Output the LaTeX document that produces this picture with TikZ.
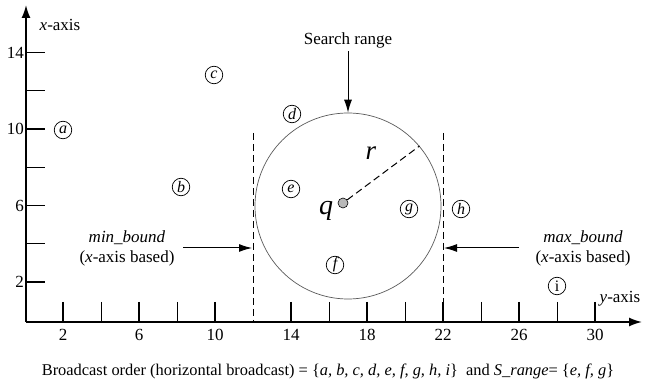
\documentclass[tikz,border=0pt]{standalone}
\usepackage{fontspec}
\setmainfont{Liberation Serif}
\usetikzlibrary{arrows.meta}
\tikzset{
  axisline/.style={line width=1.6pt,-{Latex[length=13pt,width=9pt]}},
  majortick/.style={line width=1.6pt},
  minortick/.style={line width=0.9pt},
  ptnode/.style={circle,draw,line width=0.7pt,minimum size=17.5pt,inner sep=0pt,font=\fontsize{16}{16}\selectfont\itshape},
  boundline/.style={dashed,line width=1pt,dash pattern=on 7pt off 4pt},
  pointer/.style={line width=1pt,-{Latex[length=13pt,width=8pt]}},
  lbl/.style={font=\fontsize{17}{20}\selectfont},
}
\begin{document}
\begin{tikzpicture}[x=1pt,y=-1pt]
\useasboundingbox (0,0) rectangle (649,385);
% axes
\coordinate (O) at (26,322);
\coordinate (xend) at (642,322);
\coordinate (yend) at (26,5);
\draw[axisline] (O) -- (xend);
\draw[axisline] (O) -- (yend);
% vertical axis ticks
\foreach \k in {2,6,10,14} {
  \draw[majortick] (26,{320.5-19.15*\k}) -- (45,{320.5-19.15*\k});
  \node[lbl,anchor=east,inner sep=1pt] at (25,{320.5-19.15*\k}) {\k};
}
\foreach \k in {4,8,12} {
  \draw[minortick] (26,{320.5-19.15*\k}) -- (45,{320.5-19.15*\k});
}
% horizontal axis ticks
\foreach \k in {2,6,10,14,18,22,26,30} {
  \draw[majortick] ({25+19*\k},302) -- ({25+19*\k},322);
  \node[lbl,anchor=north,inner sep=1pt] at ({25+19*\k},328) {\k};
}
\foreach \k in {4,8,16,20,24,28} {
  \draw[minortick] ({25+19*\k},302) -- ({25+19*\k},322);
}
% axis labels
\node[lbl] (xlab) at (60,25) {\textit{x}-axis};
\node[lbl] (ylab) at (620,299) {\textit{y}-axis};
% points
\node[ptnode] (a) at (63,130) {a};
\node[ptnode] (b) at (181,187) {b};
\node[ptnode] (c) at (214,75) {c};
\node[ptnode] (d) at (292,114) {d};
\node[ptnode] (e) at (291,189) {e};
\node[ptnode] (f) at (335,265) {f};
\node[ptnode] (g) at (409,209) {g};
\node[ptnode] (h) at (461,209) {h};
\node[ptnode,font=\fontsize{16}{16}\selectfont] (i) at (557,286) {i};
% search circle
\node[circle,draw=black!65,line width=0.7pt,minimum size=186pt,inner sep=0pt] (sr) at (348,206) {};
% bounds
\coordinate (lb1) at (253,133);
\coordinate (lb2) at (253,322);
\coordinate (rb1) at (443,133);
\coordinate (rb2) at (443,322);
\draw[boundline] (lb1) -- (lb2);
\draw[boundline] (rb1) -- (rb2);
% query point
\node[circle,draw,fill=gray!55,line width=0.6pt,minimum size=10pt,inner sep=0pt] (q) at (343,203) {};
\node[font=\fontsize{28}{28}\selectfont\itshape] (qlab) at (326,211) {q};
% radius
\draw[dashed,line width=1pt,dash pattern=on 7pt off 4pt] (q) -- (sr.40);
\node[font=\fontsize{27}{27}\selectfont\itshape] (rlab) at (371,153) {r};
% search range label
\node[lbl] (srlab) at (348,40) {Search range};
\draw[pointer] (srlab.south -| sr.north) -- (sr.north);
% min bound
\node[lbl,align=center] (minb) at (127,248) {\textit{min\_bound}\\(\textit{x}-axis based)};
\coordinate (minstart) at (183,248);
\coordinate (minend) at (252,248);
\draw[pointer] (minstart) -- (minend);
% max bound
\node[lbl,align=center] (maxb) at (583,248) {\textit{max\_bound}\\(\textit{x}-axis based)};
\coordinate (maxstart) at (519,248);
\coordinate (maxend) at (444,248);
\draw[pointer] (maxstart) -- (maxend);
% caption
\node[font=\fontsize{16.4}{19}\selectfont] (cap) at (328,371) {Broadcast order (horizontal broadcast) = \{\textit{a, b, c, d, e, f, g, h, i}\}\ \ and \textit{S\_range}= \{\textit{e, f, g}\}};
\end{tikzpicture}
\end{document}
